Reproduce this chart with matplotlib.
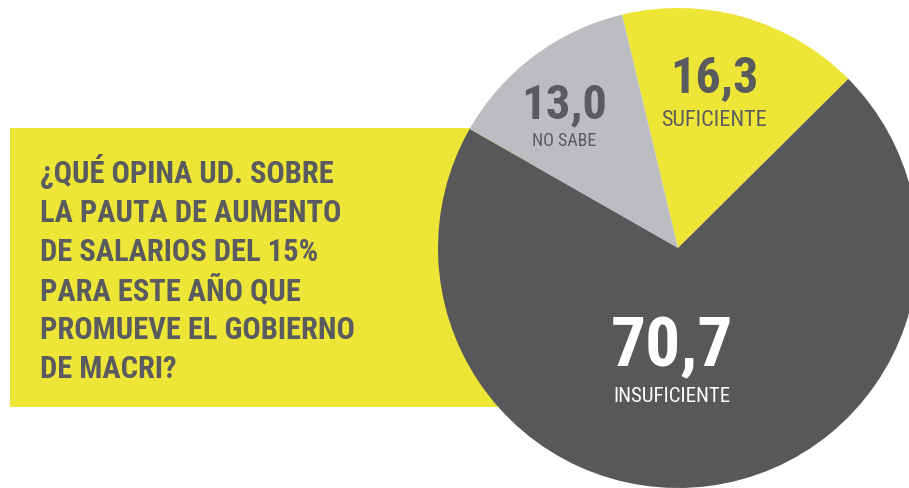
import matplotlib
matplotlib.use("Agg")
import matplotlib.pyplot as plt
from matplotlib.patches import Rectangle

# datos de la encuesta
categorias = ["SUFICIENTE", "NO SABE", "INSUFICIENTE"]
valores = [16.3, 13.0, 70.7]
colores = ["#EEE637", "#BCBDC0", "#58585A"]
etiquetas_num = ["16,3", "13,0", "70,7"]

pregunta = [
    "¿QUÉ OPINA UD. SOBRE",
    "LA PAUTA DE AUMENTO",
    "DE SALARIOS DEL 15%",
    "PARA ESTE AÑO QUE",
    "PROMUEVE EL GOBIERNO",
    "DE MACRI?",
]

FUENTE = ["Roboto Condensed", "Liberation Sans Narrow", "DejaVu Sans"]
GRIS_TEXTO = "#5A5B5E"

W, H = 909, 488
fig = plt.figure(figsize=(W / 100, H / 100), dpi=100)
ax = fig.add_axes([0, 0, 1, 1])

# caja amarilla de la pregunta (queda debajo de la torta)
ax.add_patch(Rectangle((10, H - 407), 520, 279, facecolor="#EEE637",
                       edgecolor="none", zorder=0))

wedges, _ = ax.pie(valores, colors=colores, startangle=44.8, counterclock=True,
                   center=(678, H - 248), radius=240,
                   wedgeprops=dict(linewidth=0))
for w in wedges:
    w.set_zorder(1)

ax.set_xlim(0, W)
ax.set_ylim(0, H)
ax.set_aspect("equal")
ax.axis("off")

# texto de la pregunta
for i, linea in enumerate(pregunta):
    ax.text(40, H - (183 + 39 * i), linea, family=FUENTE, fontweight="bold",
            fontsize=22, color=GRIS_TEXTO, ha="left", va="baseline", zorder=3)

# etiquetas de cada porción: (x, base numero, base rotulo, tam numero, tam rotulo, color)
pos = [
    (714, 93, 126, 36, 16, GRIS_TEXTO),
    (564, 118, 146, 35, 13, GRIS_TEXTO),
    (672, 366, 402, 50, 15, "white"),
]
for (x, yn, yl, fn, fl, c), num, cat in zip(pos, etiquetas_num, categorias):
    ax.text(x, H - yn, num, family=FUENTE, fontweight="bold", fontsize=fn,
            color=c, ha="center", va="baseline", zorder=3)
    ax.text(x, H - yl, cat, family=FUENTE, fontsize=fl,
            color=c, ha="center", va="baseline", zorder=3)

fig.savefig("out.png", dpi=100)
